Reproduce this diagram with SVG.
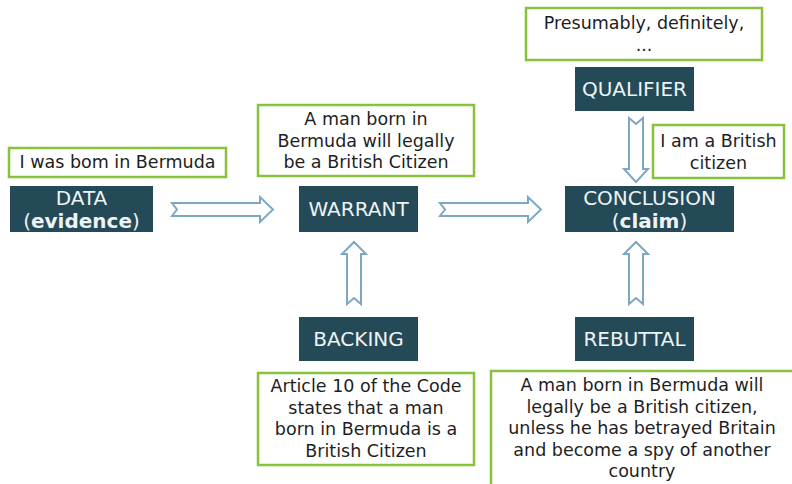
<svg xmlns="http://www.w3.org/2000/svg" width="792" height="484" viewBox="0 0 792 484">
  <style>
    .node rect { fill: #244a58; }
    .node text { fill: #eef3f5; font-family: "DejaVu Sans", sans-serif; font-size: 20px; text-anchor: middle; }
    .note rect { fill: #ffffff; stroke: #86c23a; stroke-width: 2.5; }
    .note text { fill: #1e1e1e; font-family: "DejaVu Sans", sans-serif; font-size: 17.5px; text-anchor: middle; }
    .arrow { fill: #ffffff; stroke: #7ea8c2; stroke-width: 2; stroke-linejoin: miter; }
    .b { font-weight: bold; }
  </style>
  <rect width="792" height="484" fill="#ffffff"/>

  <!-- connectors: hollow block arrows with notched tails -->
  <g id="connectors">
    <!-- data to warrant -->
    <path class="arrow" d="M172,203 L260,203 L260,197 L273,209.5 L260,222 L260,216 L172,216 L177,209.5 Z"/>
    <!-- warrant to conclusion -->
    <path class="arrow" d="M440,203 L528,203 L528,197 L541,209.5 L528,222 L528,216 L440,216 L445,209.5 Z"/>
    <!-- backing up to warrant -->
    <path class="arrow" d="M347,304 L347,254 L342,254 L354,242 L366,254 L361,254 L361,304 L354,298 Z"/>
    <!-- rebuttal up to conclusion -->
    <path class="arrow" d="M629,304 L629,254 L624,254 L636,242 L648,254 L643,254 L643,304 L636,298 Z"/>
    <!-- qualifier down to conclusion -->
    <path class="arrow" d="M629,118 L636,124 L643,118 L643,169 L648,169 L636,182 L624,169 L629,169 Z"/>
  </g>

  <g id="data" class="node">
    <rect x="10" y="186" width="143" height="46"/>
    <text x="81.5" y="205">DATA</text>
    <text x="81.5" y="228">(<tspan class="b">evidence</tspan>)</text>
  </g>
  <g id="data-note" class="note">
    <rect x="9" y="148" width="217" height="29"/>
    <text x="117.5" y="168">I was bom in Bermuda</text>
  </g>

  <g id="warrant" class="node">
    <rect x="299" y="186" width="119" height="46"/>
    <text x="358.5" y="216">WARRANT</text>
  </g>
  <g id="warrant-note" class="note">
    <rect x="258" y="105" width="216" height="71"/>
    <text x="366" y="125">A man born in</text>
    <text x="366" y="146.5">Bermuda will legally</text>
    <text x="366" y="168">be a British Citizen</text>
  </g>

  <g id="conclusion" class="node">
    <rect x="565" y="186" width="169" height="46"/>
    <text x="649.5" y="205">CONCLUSION</text>
    <text x="649.5" y="228">(<tspan class="b">claim</tspan>)</text>
  </g>
  <g id="conclusion-note" class="note">
    <rect x="653" y="125" width="131" height="53"/>
    <text x="718.5" y="147">I am a British</text>
    <text x="718.5" y="168.5">citizen</text>
  </g>

  <g id="qualifier" class="node">
    <rect x="575" y="67" width="119" height="44"/>
    <text x="634.5" y="96">QUALIFIER</text>
  </g>
  <g id="qualifier-note" class="note">
    <rect x="526" y="8" width="236" height="52"/>
    <text x="644" y="29">Presumably, definitely,</text>
    <text x="644" y="51">...</text>
  </g>

  <g id="backing" class="node">
    <rect x="299" y="317" width="119" height="44"/>
    <text x="358.5" y="346">BACKING</text>
  </g>
  <g id="backing-note" class="note">
    <rect x="258" y="373" width="216" height="92"/>
    <text x="366" y="392">Article 10 of the Code</text>
    <text x="366" y="413.5">states that a man</text>
    <text x="366" y="435">born in Bermuda is a</text>
    <text x="366" y="456.5">British Citizen</text>
  </g>

  <g id="rebuttal" class="node">
    <rect x="575" y="317" width="119" height="44"/>
    <text x="634.5" y="346">REBUTTAL</text>
  </g>
  <g id="rebuttal-note" class="note">
    <rect x="491" y="371" width="320" height="130"/>
    <text x="642" y="391">A man born in Bermuda will</text>
    <text x="642" y="412.5">legally be a British citizen,</text>
    <text x="642" y="434">unless he has betrayed Britain</text>
    <text x="642" y="455.5">and become a spy of another</text>
    <text x="642" y="477">country</text>
  </g>
</svg>
